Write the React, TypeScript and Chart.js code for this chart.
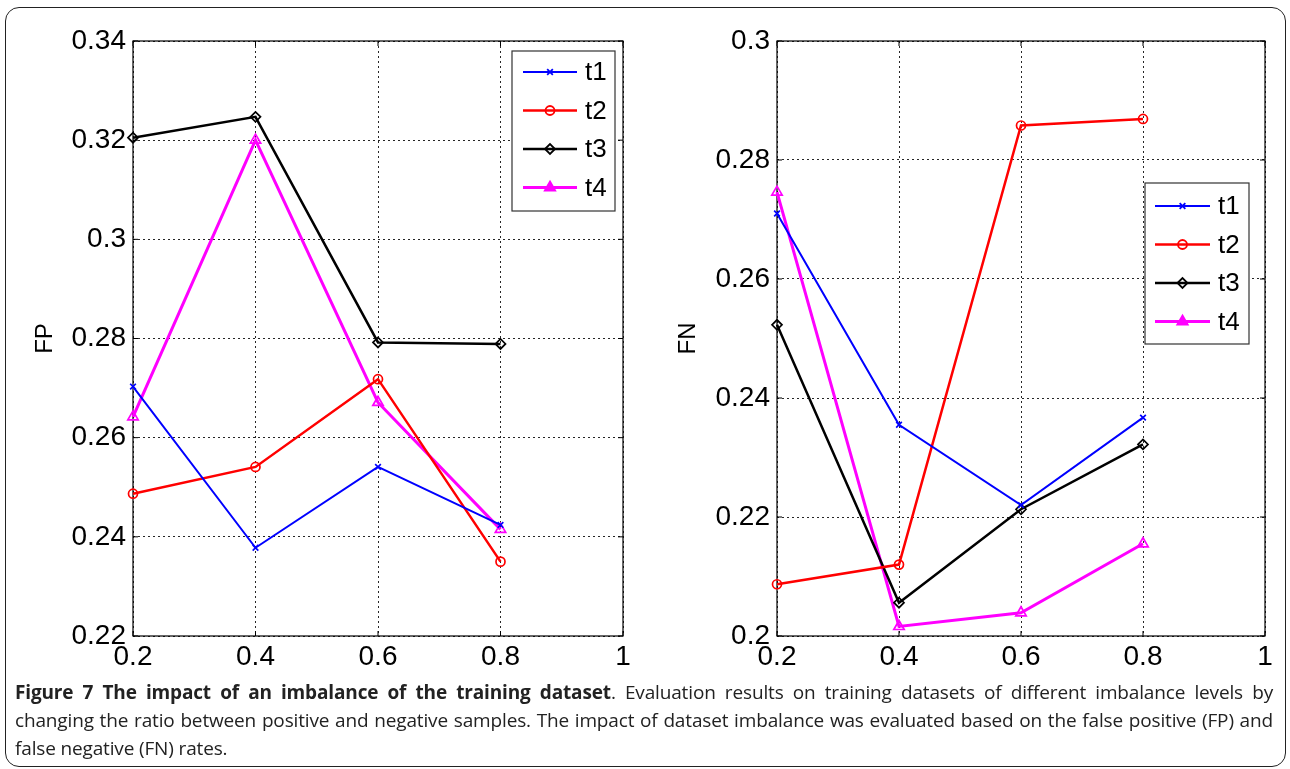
import React, { useEffect, useRef } from 'react';
import { Chart, registerables } from 'chart.js';
import { drawPoint } from 'chart.js/helpers';

Chart.register(...registerables);

// ---------- data ----------
const ratios = [0.2, 0.4, 0.6, 0.8];
const xTickValues = [0.2, 0.4, 0.6, 0.8, 1];
const seriesNames = ['t1', 't2', 't3', 't4'];

const fpTickValues = [0.22, 0.24, 0.26, 0.28, 0.3, 0.32, 0.34];
const fnTickValues = [0.2, 0.22, 0.24, 0.26, 0.28, 0.3];

const fpT1 = [0.2703, 0.2378, 0.2541, 0.2424];
const fpT2 = [0.2487, 0.2541, 0.2718, 0.235];
const fpT3 = [0.3205, 0.3247, 0.2792, 0.2789];
const fpT4 = [0.2642, 0.32, 0.2671, 0.2415];

const fnT1 = [0.271, 0.2355, 0.222, 0.2367];
const fnT2 = [0.2087, 0.212, 0.2858, 0.2869];
const fnT3 = [0.2523, 0.2056, 0.2213, 0.2322];
const fnT4 = [0.2746, 0.2016, 0.2039, 0.2155];

const captionBold = 'Figure 7 The impact of an imbalance of the training dataset';
const captionLine1 = '. Evaluation results on training datasets of different imbalance levels by';
const captionLine2 =
  'changing the ratio between positive and negative samples. The impact of dataset imbalance was evaluated based on the false positive (FP) and';
const captionLine3 = 'false negative (FN) rates.';

// ---------- styles ----------
const seriesColors = ['#0000ff', '#ff0000', '#000000', '#ff00ff'];
const seriesMarkers = ['crossRot', 'circle', 'rectRot', 'triangle'];
const seriesRadius = [4, 4.5, 5, 6];
const seriesLineWidth = [2, 2.5, 2.5, 3];
const FONT = '"Liberation Sans", Arial, Helvetica, sans-serif';

type Panel = {
  title: string;
  ticks: number[];
  values: number[][];
  left: number;
  width: number;
  height: number;
  yAxisWidth: number;
  padRight: number;
  padTop: number;
  xAxisHeight: number;
  titlePad: number;
  tickPad: number;
  legend: { x: number; y: number; w: number; h: number; row0: number; rowStep: number; lineX0: number; lineX1: number; textX: number };
};

const panels: Panel[] = [
  {
    title: 'FP',
    ticks: fpTickValues,
    values: [fpT1, fpT2, fpT3, fpT4],
    left: 0,
    width: 650,
    height: 680,
    yAxisWidth: 133,
    padRight: 27,
    padTop: 41,
    xAxisHeight: 44,
    titlePad: 31,
    tickPad: 7,
    legend: { x: 512, y: 51, w: 103, h: 160, row0: 72, rowStep: 38.5, lineX0: 523, lineX1: 577, textX: 585 },
  },
  {
    title: 'FN',
    ticks: fnTickValues,
    values: [fnT1, fnT2, fnT3, fnT4],
    left: 650,
    width: 640,
    height: 680,
    yAxisWidth: 127,
    padRight: 25,
    padTop: 41,
    xAxisHeight: 44,
    titlePad: 24,
    tickPad: 7,
    legend: { x: 495, y: 183, w: 104, h: 161, row0: 206, rowStep: 38.5, lineX0: 505, lineX1: 560, textX: 568 },
  },
];

const fmt = (v: number) => String(Number(Number(v).toFixed(2)));

function makeChart(canvas: HTMLCanvasElement, p: Panel) {
  const framePlugin = {
    id: 'matlabFrame',
    beforeDatasetsDraw(chart: any) {
      const { ctx, chartArea: a, scales } = chart;
      ctx.save();
      ctx.strokeStyle = '#000';
      ctx.lineWidth = 1.2;
      ctx.setLineDash([]);
      ctx.strokeRect(a.left, a.top, a.right - a.left, a.bottom - a.top);
      ctx.lineWidth = 1;
      const len = 5;
      ctx.beginPath();
      scales.x.ticks.forEach((t: any) => {
        const px = scales.x.getPixelForValue(t.value);
        ctx.moveTo(px, a.bottom);
        ctx.lineTo(px, a.bottom - len);
        ctx.moveTo(px, a.top);
        ctx.lineTo(px, a.top + len);
      });
      scales.y.ticks.forEach((t: any) => {
        const py = scales.y.getPixelForValue(t.value);
        ctx.moveTo(a.left, py);
        ctx.lineTo(a.left + len, py);
        ctx.moveTo(a.right, py);
        ctx.lineTo(a.right - len, py);
      });
      ctx.stroke();
      ctx.restore();
    },
  };

  const legendPlugin = {
    id: 'matlabLegend',
    afterDraw(chart: any) {
      const { ctx } = chart;
      const L = p.legend;
      ctx.save();
      ctx.fillStyle = '#ffffff';
      ctx.fillRect(L.x, L.y, L.w, L.h);
      ctx.strokeStyle = '#333';
      ctx.lineWidth = 1.2;
      ctx.setLineDash([]);
      ctx.strokeRect(L.x, L.y, L.w, L.h);
      seriesNames.forEach((name, i) => {
        const y = L.row0 + i * L.rowStep;
        ctx.strokeStyle = seriesColors[i];
        ctx.lineWidth = seriesLineWidth[i];
        ctx.beginPath();
        ctx.moveTo(L.lineX0, y);
        ctx.lineTo(L.lineX1, y);
        ctx.stroke();
        ctx.fillStyle = i === 3 ? seriesColors[i] : 'rgba(0,0,0,0)';
        ctx.lineWidth = 1.8;
        drawPoint(
          ctx,
          { pointStyle: seriesMarkers[i] as any, radius: seriesRadius[i], rotation: 0, borderWidth: 1.8 } as any,
          (L.lineX0 + L.lineX1) / 2,
          y
        );
        ctx.fillStyle = '#000';
        ctx.font = `26px ${FONT}`;
        ctx.textBaseline = 'middle';
        ctx.textAlign = 'left';
        ctx.fillText(name, L.textX, y + 1);
      });
      ctx.restore();
    },
  };

  const datasets = p.values.map((vals, i) => ({
    label: seriesNames[i],
    data: ratios.map((r, j) => ({ x: r, y: vals[j] })),
    borderColor: seriesColors[i],
    backgroundColor: 'rgba(0,0,0,0)',
    borderWidth: seriesLineWidth[i],
    pointStyle: seriesMarkers[i],
    pointRadius: seriesRadius[i],
    pointBorderWidth: 1.7,
    pointBorderColor: seriesColors[i],
    pointBackgroundColor: 'rgba(0,0,0,0)',
    tension: 0,
    clip: false as any,
  }));

  return new Chart(canvas, {
    type: 'line',
    data: { datasets },
    options: {
      animation: false,
      responsive: false,
      events: [],
      layout: { padding: { left: 0, right: p.padRight, top: p.padTop, bottom: 0 } },
      plugins: { legend: { display: false }, tooltip: { enabled: false }, title: { display: false } },
      scales: {
        x: {
          type: 'linear',
          min: 0.2,
          max: 1,
          afterBuildTicks: (s: any) => {
            s.ticks = xTickValues.map((v) => ({ value: v }));
          },
          afterFit: (s: any) => {
            s.height = p.xAxisHeight;
          },
          ticks: {
            callback: (v: any) => fmt(v),
            font: { family: FONT, size: 28 },
            color: '#000',
            padding: 4,
            maxRotation: 0,
            autoSkip: false,
          },
          grid: { color: 'rgba(0,0,0,0.85)', lineWidth: 1, drawTicks: false },
          border: { display: false, dash: [2, 3] },
        },
        y: {
          type: 'linear',
          min: p.ticks[0],
          max: p.ticks[p.ticks.length - 1],
          afterBuildTicks: (s: any) => {
            s.ticks = p.ticks.map((v) => ({ value: v }));
          },
          afterFit: (s: any) => {
            s.width = p.yAxisWidth;
          },
          ticks: {
            callback: (v: any) => fmt(v),
            font: { family: FONT, size: 28 },
            color: '#000',
            padding: p.tickPad,
            autoSkip: false,
          },
          title: {
            display: true,
            text: p.title,
            font: { family: FONT, size: 24 },
            color: '#000',
            padding: { top: p.titlePad, bottom: 0 },
          },
          grid: { color: 'rgba(0,0,0,0.85)', lineWidth: 1, drawTicks: false },
          border: { display: false, dash: [2, 3] },
        },
      },
    } as any,
    plugins: [framePlugin, legendPlugin],
  });
}

function PanelChart({ p }: { p: Panel }) {
  const ref = useRef<HTMLCanvasElement | null>(null);
  useEffect(() => {
    if (!ref.current) return;
    const c = makeChart(ref.current, p);
    return () => c.destroy();
  }, [p]);
  return (
    <div style={{ position: 'absolute', left: p.left, top: 0, width: p.width, height: p.height }}>
      <canvas ref={ref} width={p.width} height={p.height} style={{ display: 'block' }} />
    </div>
  );
}

export default function App() {
  const justified: React.CSSProperties = { textAlign: 'justify', textAlignLast: 'justify', whiteSpace: 'nowrap' };
  return (
    <div
      style={{
        position: 'fixed',
        left: 0,
        top: 0,
        width: 1290,
        height: 769,
        overflow: 'hidden',
        background: '#fff',
      }}
    >
      <div
        style={{
          position: 'absolute',
          left: 5,
          top: 7,
          width: 1281,
          height: 760,
          border: '1.5px solid #222',
          borderRadius: 14,
          boxSizing: 'border-box',
        }}
      />
      {panels.map((p) => (
        <PanelChart key={p.title} p={p} />
      ))}
      <div
        style={{
          position: 'absolute',
          left: 15,
          top: 678,
          width: 1258,
          fontFamily: '"Open Sans", sans-serif',
          fontSize: 19,
          letterSpacing: '-0.15px',
          lineHeight: '28px',
          color: '#222',
        }}
      >
        <div style={justified}>
          <b style={{ fontWeight: 700 }}>{captionBold}</b>
          {captionLine1}
        </div>
        <div style={justified}>{captionLine2}</div>
        <div>{captionLine3}</div>
      </div>
    </div>
  );
}
